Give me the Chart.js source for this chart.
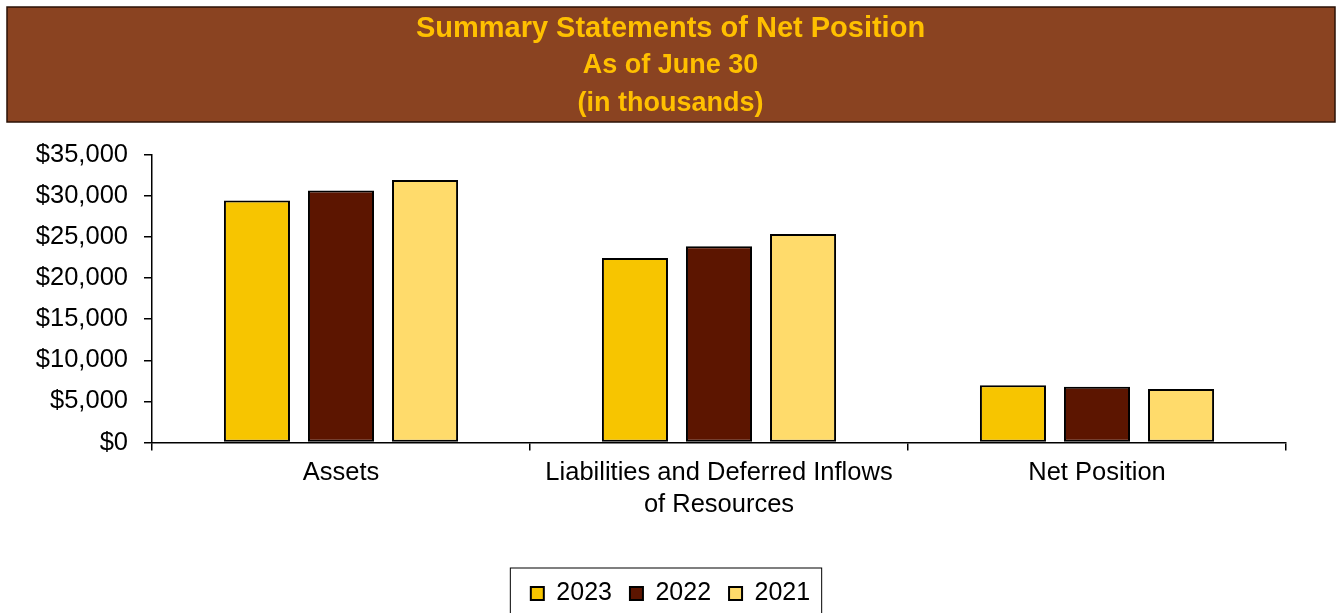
<!doctype html>
<html>
<head>
	<title>Summary Statements of Net Position</title>
	<script src="https://cdn.jsdelivr.net/npm/chart.js@4.4.0/dist/chart.umd.min.js"></script>
	<style>
		body { margin: 0; background: #fff; }
		canvas { display: block; }
	</style>
</head>
<body>
	<canvas id="canvas" width="1341" height="613"></canvas>
	<script>
		// values (in thousands)
		var categories = ['Assets', ['Liabilities and Deferred Inflows', 'of Resources'], 'Net Position'];
		var years = ['2023', '2022', '2021'];
		var data2023 = [29450, 22450, 6970];
		var data2022 = [30660, 23860, 6770];
		var data2021 = [31920, 25360, 6520];
		var yTicks = { min: 0, max: 35000, step: 5000 };

		var fontFamily = "Arial, 'Liberation Sans', sans-serif";
		var colors = ['#F7C500', '#5C1500', '#FFDB6B'];

		// brown header box behind title and subtitle
		var headerBox = {
			id: 'headerBox',
			beforeDraw: function (chart) {
				var ctx = chart.ctx;
				ctx.save();
				ctx.fillStyle = '#fff';
				ctx.fillRect(0, 0, chart.width, chart.height);
				ctx.fillStyle = '#8A4321';
				ctx.fillRect(7, 7, chart.width - 13, 115);
				ctx.strokeStyle = '#2b1206';
				ctx.lineWidth = 1.5;
				ctx.strokeRect(7, 7, chart.width - 13, 115);
				ctx.restore();
			}
		};

		// frame round the legend, like the Excel one
		var legendFrame = {
			id: 'legendFrame',
			afterDraw: function (chart) {
				var boxes = chart.legend.legendHitBoxes;
				if (!boxes || !boxes.length) return;
				var first = boxes[0], last = boxes[boxes.length - 1];
				var left = first.left - 21;
				var right = last.left + last.width + 11;
				var mid = first.top + first.height / 2;
				var ctx = chart.ctx;
				ctx.save();
				ctx.strokeStyle = '#000';
				ctx.lineWidth = 1;
				ctx.strokeRect(left + 0.5, mid - 26 + 0.5, right - left, 60);
				ctx.restore();
			}
		};

		var datasets = [data2023, data2022, data2021].map(function (d, i) {
			return {
				label: years[i],
				data: d,
				backgroundColor: colors[i],
				borderColor: '#000',
				borderWidth: 2,
				borderSkipped: false,
				barPercentage: 0.786,
				categoryPercentage: 0.667
			};
		});

		var ctx = document.getElementById('canvas').getContext('2d');
		window.myBar = new Chart(ctx, {
			type: 'bar',
			data: { labels: categories, datasets: datasets },
			plugins: [headerBox, legendFrame],
			options: {
				responsive: false,
				animation: false,
				layout: { padding: { left: 0, right: 0, top: 0, bottom: -3 } },
				plugins: {
					title: {
						display: true,
						text: 'Summary Statements of Net Position',
						color: '#FFC000',
						font: { family: fontFamily, size: 29, weight: 'bold', lineHeight: 1.2 },
						padding: { top: 12, bottom: 0 }
					},
					subtitle: {
						display: true,
						text: ['As of June 30', '(in thousands)'],
						color: '#FFC000',
						font: { family: fontFamily, size: 27, weight: 'bold', lineHeight: 1.407 },
						padding: { top: 0, bottom: 32 }
					},
					legend: {
						position: 'bottom',
						labels: {
							color: '#000',
							boxWidth: 13,
							boxHeight: 13,
							padding: 18,
							font: { family: fontFamily, size: 25 }
						}
					},
					tooltip: { enabled: false }
				},
				scales: {
					x: {
						afterFit: function (scale) { scale.height = 120.5; },
						grid: { drawOnChartArea: false, color: '#000', lineWidth: 1.5, tickLength: 8 },
						border: { color: '#000', width: 1.5 },
						ticks: {
							color: '#000',
							padding: 7,
							maxRotation: 0,
							font: { family: fontFamily, size: 25.5, lineHeight: 1.25 }
						}
					},
					y: {
						min: yTicks.min,
						max: yTicks.max,
						afterFit: function (scale) { scale.width = 152; },
						grid: { drawOnChartArea: false, color: '#000', lineWidth: 1.5, tickLength: 8 },
						border: { color: '#000', width: 1.5 },
						ticks: {
							stepSize: yTicks.step,
							color: '#000',
							padding: 16,
							font: { family: fontFamily, size: 25.5 },
							callback: function (v) { return '$' + v.toLocaleString('en-US'); }
						}
					},
					// empty right axis, only keeps the plot's right edge where Excel had it
					y2: {
						type: 'linear',
						position: 'right',
						afterFit: function (scale) { scale.width = 55; },
						grid: { display: false },
						border: { display: false },
						ticks: { display: false }
					}
				}
			}
		});
	</script>
</body>
</html>
